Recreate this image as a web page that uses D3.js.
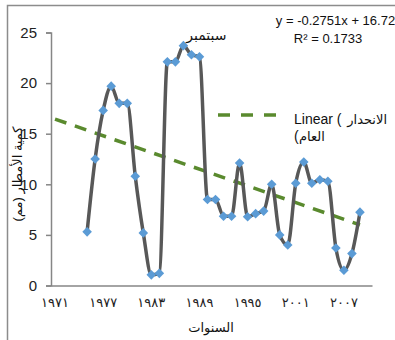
<!DOCTYPE html>
<html>
<head>
<meta charset="utf-8">
<script src="https://cdn.jsdelivr.net/npm/d3@7"></script>
<style>
  html, body { margin: 0; padding: 0; background: #fff; }
  svg { display: block; }
  text { font-family: "Liberation Sans", "DejaVu Sans", Arial, sans-serif; }
</style>
</head>
<body>
<svg id="chart" width="395" height="340"></svg>
<script>
(function(){
// ---- data ----
const categories = [1971,1972,1973,1974,1975,1976,1977,1978,1979,1980,
                    1981,1982,1983,1984,1985,1986,1987,1988,1989,1990,
                    1991,1992,1993,1994,1995,1996,1997,1998,1999,2000,
                    2001,2002,2003,2004,2005,2006,2007,2008,2009,2010];
const years  = [1975,1976,1977,1978,1979,1980,1981,1982,1983,1984,
                1985,1986,1987,1988,1989,1990,1991,1992,1993,1994,
                1995,1996,1997,1998,1999,2000,2001,2002,2003,2004,
                2005,2006,2007,2008,2009];
const rainfall = [5.3,12.5,17.3,19.7,18.0,18.0,10.8,5.2,1.05,1.2,
                  22.1,22.1,23.7,22.8,22.6,8.5,8.5,6.85,6.85,12.1,
                  6.8,7.1,7.35,10.0,5.0,4.0,10.1,12.2,10.1,10.45,
                  10.3,3.7,1.5,3.15,7.25];
const xTickLabels = [
  {year:1971, label:"١٩٧١"}, {year:1977, label:"١٩٧٧"}, {year:1983, label:"١٩٨٣"},
  {year:1989, label:"١٩٨٩"}, {year:1995, label:"١٩٩٥"}, {year:2001, label:"٢٠٠١"},
  {year:2007, label:"٢٠٠٧"}
];
const yTicks = [0,5,10,15,20,25];
const trendSlope = -0.2751, trendIntercept = 16.72;
const trendFrom = 1, trendTo = 39;   // category indices (1-based)
const equationText = "y = -0.2751x + 16.72";
const r2Text = "R² = 0.1733";
const annotation = {year:1987, text:"سبتمبر"};
const legendLatin = "Linear (";
const legendArabic1 = "الانحدار";
const legendArabic2 = "العام";
const yTitle = "كمية الأمطار (مم)";
const xTitle = "السنوات";

// ---- layout ----
const svg = d3.select("#chart");
const mLeft = 51, mRight = 372, mTop = 32.5, mBottom = 285.5;

svg.append("rect").attr("x",7.5).attr("y",5.5).attr("width",400).attr("height",345)
  .attr("fill","#fff").attr("stroke","#8c8c8c").attr("stroke-width",1.5);

const x = d3.scaleBand().domain(categories).range([mLeft, mRight]).padding(0);
const cx = c => x(c) + x.bandwidth()/2;
const y = d3.scaleLinear().domain([0,25]).range([mBottom, mTop]);

// y axis
const yAxis = d3.axisLeft(y).tickValues(yTicks).tickSize(5).tickPadding(9);
const yg = svg.append("g").attr("transform",`translate(${mLeft},0)`).call(yAxis);
yg.select(".domain").attr("stroke","#868686").attr("stroke-width",1.5);
yg.selectAll(".tick line").attr("stroke","#868686").attr("stroke-width",1.5);
yg.selectAll(".tick text").attr("font-size",15).attr("fill","#222")
  .attr("font-family","'Liberation Sans', Arial, sans-serif");

// x axis
const xAxis = d3.axisBottom(x).tickValues(xTickLabels.map(d=>d.year))
  .tickFormat(v => xTickLabels.find(d=>d.year===v).label).tickSize(0).tickPadding(12);
const xg = svg.append("g").attr("transform",`translate(0,${mBottom})`).call(xAxis);
xg.select(".domain").attr("stroke","#868686").attr("stroke-width",1.5);
xg.selectAll(".tick text").attr("font-size",13).attr("fill","#222")
  .attr("font-family","'DejaVu Sans', sans-serif").attr("letter-spacing",2);

// trend line
const trendPts = [trendFrom, trendTo].map(i => [cx(categories[i-1]), y(trendIntercept + trendSlope*i)]);
svg.append("path").attr("d", d3.line()(trendPts))
  .attr("stroke","#5a8a2e").attr("stroke-width",3.5).attr("stroke-dasharray","12,9").attr("fill","none");

// data line
const pts = years.map((yr,i)=>({yr, v: rainfall[i]}));
const line = d3.line().x(d=>cx(d.yr)).y(d=>y(d.v)).curve(d3.curveMonotoneX);
svg.append("path").datum(pts).attr("d", line)
  .attr("stroke","#585858").attr("stroke-width",3.5).attr("fill","none").attr("stroke-linejoin","round");

// markers
const r = 4.8;
svg.selectAll("path.mk").data(pts).join("path").attr("class","mk")
  .attr("d", d => `M${cx(d.yr)},${y(d.v)-r}L${cx(d.yr)+r},${y(d.v)}L${cx(d.yr)},${y(d.v)+r}L${cx(d.yr)-r},${y(d.v)}Z`)
  .attr("fill","#5b9bd5");

// annotation
svg.append("text").attr("x", cx(annotation.year)+23).attr("y", 40).attr("text-anchor","middle")
  .attr("font-size",14).attr("fill","#111").attr("font-family","'DejaVu Sans', sans-serif").text(annotation.text);

// equation
svg.append("text").attr("x",335.5).attr("y",25).attr("text-anchor","middle").attr("font-size",13)
  .attr("fill","#111").text(equationText);
svg.append("text").attr("x",328).attr("y",43).attr("text-anchor","middle").attr("font-size",13)
  .attr("fill","#111").text(r2Text);

// legend
svg.append("line").attr("x1",218).attr("x2",276).attr("y1",115).attr("y2",115)
  .attr("stroke","#5a8a2e").attr("stroke-width",3.5).attr("stroke-dasharray","12,11");
svg.append("text").attr("x",294).attr("y",124).attr("font-size",14).attr("fill","#111").text(legendLatin);
svg.append("text").attr("x",387).attr("y",124).attr("text-anchor","end").attr("font-size",13)
  .attr("fill","#111").attr("font-family","'DejaVu Sans', sans-serif").text(legendArabic1);
svg.append("text").attr("x",294).attr("y",141).attr("font-size",14).attr("fill","#111").text("(");
svg.append("text").attr("x",299).attr("y",141).attr("font-size",13).attr("fill","#111")
  .attr("font-family","'DejaVu Sans', sans-serif").text(legendArabic2);

// axis titles
svg.append("text").attr("transform","translate(22,174) rotate(-90)").attr("text-anchor","middle")
  .attr("font-size",13).attr("fill","#111").attr("font-family","'DejaVu Sans', sans-serif").text(yTitle);
svg.append("text").attr("x",211).attr("y",332).attr("text-anchor","middle")
  .attr("font-size",13).attr("fill","#111").attr("font-family","'DejaVu Sans', sans-serif").text(xTitle);
})();
</script>
</body>
</html>
